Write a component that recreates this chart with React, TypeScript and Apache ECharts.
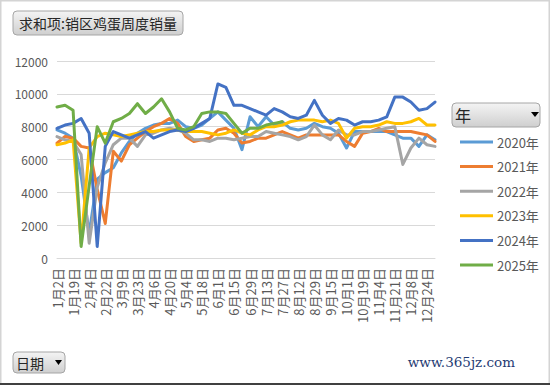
import React, { useEffect, useRef } from "react";
import * as echarts from "echarts";

const categories = [
  "1月2日", "1月9日", "1月19日", "1月26日", "2月4日", "2月11日", "2月22日", "3月1日",
  "3月9日", "3月16日", "3月23日", "3月30日", "4月6日", "4月13日", "4月20日", "4月27日",
  "5月4日", "5月11日", "5月18日", "5月25日", "6月1日", "6月8日", "6月15日", "6月22日",
  "6月29日", "7月6日", "7月13日", "7月20日", "7月27日", "8月3日", "8月12日", "8月20日",
  "8月29日", "9月5日", "9月15日", "9月22日", "10月1日", "10月12日", "10月19日", "10月26日",
  "11月4日", "11月11日", "11月21日", "11月28日", "12月8日", "12月15日", "12月24日", "12月31日",
];

const seriesNames = ["2020年", "2021年", "2022年", "2023年", "2024年", "2025年"];
const seriesColors = ["#5B9BD5", "#ED7D31", "#A5A5A5", "#FFC000", "#4472C4", "#70AD47"];

const y2020 = [
  7800, 7600, 7300, 5000, 1500, 4800, 5200, 5500, 6400, 7100, 7600, 7900,
  8100, 8200, 8200, 8400, 8000, 7900, 8100, 8500, 8900, 8400, 7900, 6600,
  8600, 8000, 8600, 8100, 8300, 7900, 7800, 7900, 8200, 8000, 7900, 7600,
  6700, 7700, 7700, 7700, 7700, 7700, 7500, 7300, 7300, 6800, 7500, 7200,
];
const y2021 = [
  7000, 7400, 7300, 6800, 6700, 4200, 2100, 6500, 5900, 6900, 7300, 7700,
  8000, 8200, 8500, 8200, 7400, 7100, 7200, 7300, 7800, 7900, 7600, 7000,
  7100, 7300, 7300, 7500, 7700, 7500, 7300, 7500, 7500, 7500, 7500, 7500,
  7100, 6800, 7600, 7700, 7900, 7700, 7700, 7700, 7700, 7600, 7500, 7100,
];
const y2022 = [
  7400, 7200, 7100, 6300, 900, 4300, 5800, 6900, 7300, 7300, 6800, 7500,
  7600, 7800, 7900, 7800, 7600, 7200, 7200, 7100, 7300, 7300, 7200, 7300,
  7400, 7400, 7700, 7600, 7500, 7400, 7200, 7400, 8100, 7500, 7200, 7800,
  7500, 7500, 7700, 7700, 7800, 7900, 8000, 5700, 6700, 7300, 6900, 6800,
];
const y2023 = [
  6900, 7000, 7200, 900, 6700, 7400, 7600, 7500, 7400, 7500, 7600, 7700,
  7700, 7800, 7800, 7800, 7700, 7700, 7700, 7600, 7500, 7600, 7800, 7600,
  7500, 7800, 8000, 8000, 8100, 8300, 8400, 8400, 8400, 8300, 8400, 8200,
  7300, 7900, 8000, 8000, 8100, 8300, 8200, 8200, 8300, 8500, 8100, 8100,
];
const y2024 = [
  7900, 8100, 8200, 8500, 7600, 700, 6800, 7700, 7500, 7300, 7500, 7700,
  7300, 7500, 7700, 7800, 7700, 7900, 8200, 8500, 10600, 10400, 9300, 9300,
  9100, 8900, 8700, 9100, 8900, 8600, 8500, 8700, 9600, 8700, 8200, 8500,
  8400, 8100, 8300, 8300, 8400, 8600, 9800, 9800, 9500, 9000, 9100, 9500,
];
const y2025 = [
  9200, 9300, 9000, 700, 4400, 8000, 7000, 8300, 8500, 8800, 9400, 8800,
  9200, 9700, 8900, 7900, 7800, 8000, 8800, 8900, 8900, 8800, 8200, 7600,
  7900, 7900, 8100, 8200, 8300, null, null, null, null, null, null, null,
  null, null, null, null, null, null, null, null, null, null, null, null,
];
const seriesValues = [y2020, y2021, y2022, y2023, y2024, y2025];

const yTicks = { min: 0, max: 12000, interval: 2000 };

const FONT = "'Noto Sans CJK SC', 'Noto Sans', sans-serif";

export default function App() {
  const ref = useRef<HTMLDivElement>(null);

  useEffect(() => {
    if (!ref.current) return;
    const chart = echarts.init(ref.current, null, { renderer: "svg" });

    const btnFill = new echarts.graphic.LinearGradient(0, 0, 0, 1, [
      { offset: 0, color: "#f4f4f4" },
      { offset: 1, color: "#cfcfcf" },
    ]);

    chart.setOption({
      animation: false,
      backgroundColor: "#ffffff",
      textStyle: { fontFamily: FONT },
      grid: { left: 57, right: 115, top: 61, bottom: 127, containLabel: false },
      legend: {
        orient: "vertical",
        left: 455,
        top: 130,
        itemWidth: 33,
        itemHeight: 3,
        itemGap: 10.6,
        icon: "rect",
        textStyle: { color: "#595959", fontSize: 13, fontFamily: FONT, lineHeight: 14, padding: [0, 0, 0, -1] },
        data: seriesNames,
      },
      xAxis: {
        type: "category",
        data: categories,
        boundaryGap: false,
        axisLine: { lineStyle: { color: "#d9d9d9", width: 1 } },
        axisTick: { show: false },
        axisLabel: {
          interval: 1,
          rotate: 90,
          color: "#595959",
          fontSize: 13,
          fontFamily: FONT,
          margin: 10,
        },
      },
      yAxis: {
        type: "value",
        min: yTicks.min,
        max: yTicks.max,
        interval: yTicks.interval,
        axisLine: { show: false },
        axisTick: { show: false },
        splitLine: { lineStyle: { color: "#d9d9d9", width: 1 } },
        axisLabel: {
          color: "#595959",
          fontSize: 12,
          fontFamily: FONT,
          margin: 9,
          formatter: (v: number) => String(v),
        },
      },
      series: seriesNames.map((name, i) => ({
        name,
        type: "line",
        data: seriesValues[i],
        symbol: "none",
        connectNulls: false,
        color: seriesColors[i],
        lineStyle: { width: 3, color: seriesColors[i], join: "round", cap: "round" },
      })),
      graphic: [
        {
          type: "rect",
          shape: { x: 0.5, y: 0.5, width: 549, height: 384 },
          style: { fill: "none", stroke: "#d4d4d4", lineWidth: 2 },
          silent: true,
        },
        {
          type: "line",
          shape: { x1: 0, y1: 384, x2: 550, y2: 384 },
          style: { stroke: "#404040", lineWidth: 2 },
          silent: true,
        },
        // title button
        {
          type: "rect",
          shape: { x: 13, y: 11, width: 170, height: 24, r: 4 },
          style: { fill: btnFill, stroke: "#a6a6a6", lineWidth: 1 },
        },
        {
          type: "text",
          x: 98,
          y: 23,
          style: {
            text: "求和项:销区鸡蛋周度销量",
            fontSize: 14,
            fontFamily: FONT,
            fill: "#262626",
            align: "center",
            verticalAlign: "middle",
          },
        },
        // legend header button
        {
          type: "rect",
          shape: { x: 452, y: 103, width: 88, height: 24, r: 4 },
          style: { fill: btnFill, stroke: "#a6a6a6", lineWidth: 1 },
        },
        {
          type: "text",
          x: 455,
          y: 115,
          style: { text: "年", fontSize: 16, fontFamily: FONT, fill: "#262626", verticalAlign: "middle" },
        },
        {
          type: "polygon",
          shape: { points: [[531, 112], [539, 112], [535, 117]] },
          style: { fill: "#000000" },
        },
        // date button
        {
          type: "rect",
          shape: { x: 13, y: 352, width: 52, height: 21, r: 4 },
          style: { fill: btnFill, stroke: "#a6a6a6", lineWidth: 1 },
        },
        {
          type: "text",
          x: 16,
          y: 362.5,
          style: { text: "日期", fontSize: 14, fontFamily: FONT, fill: "#262626", verticalAlign: "middle" },
        },
        {
          type: "polygon",
          shape: { points: [[55, 360], [62, 360], [58.5, 365]] },
          style: { fill: "#000000" },
        },
        // watermark
        {
          type: "text",
          x: 515,
          y: 362,
          style: {
            text: "www.365jz.com",
            fontSize: 13.5,
            fontFamily: "'DejaVu Serif', serif",
            fill: "#1f3b73",
            align: "right",
            verticalAlign: "middle",
          },
        },
      ],
    });

    return () => chart.dispose();
  }, []);

  return (
    <div
      ref={ref}
      style={{ position: "fixed", left: 0, top: 0, width: 550, height: 385 }}
    />
  );
}
